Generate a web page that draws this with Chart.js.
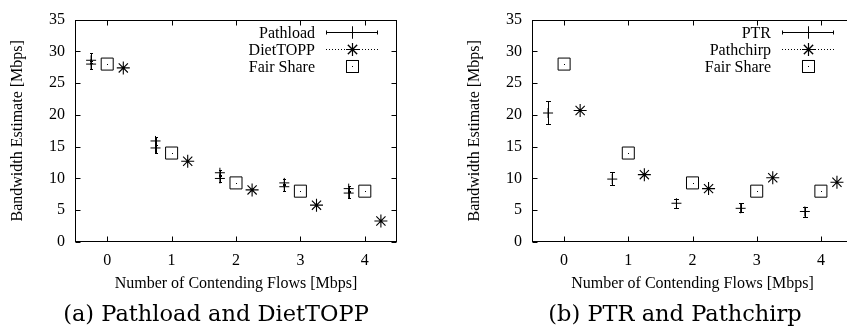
<!DOCTYPE html>
<html><head><meta charset="utf-8">
<script src="https://cdn.jsdelivr.net/npm/chart.js@4/dist/chart.umd.min.js"></script>
<style>
html,body{margin:0;padding:0;background:#fff;overflow:hidden;width:847px;height:329px;position:relative;}
#wrapA{position:absolute;left:0;top:0;width:420px;height:300px;}
#wrapB{position:absolute;left:420px;top:0;width:460px;height:300px;}
.cap{position:absolute;top:298px;font-family:"DejaVu Serif";font-size:22.5px;line-height:30px;white-space:nowrap;transform:translateX(-50%);color:#000;}
</style></head><body>
<div id="wrapA"><canvas id="cA" width="420" height="300"></canvas></div>
<div id="wrapB"><canvas id="cB" width="460" height="300"></canvas></div>
<div class="cap" style="left:216px">(a) Pathload and DietTOPP</div>
<div class="cap" style="left:675px">(b) PTR and Pathchirp</div>
<script>
// ---- data ----
const flows = [0, 1, 2, 3, 4];
const xTickLabels = ['0', '1', '2', '3', '4'];
const yTickValues = [0, 5, 10, 15, 20, 25, 30, 35];

const pathloadUpper     = [28.6, 15.9, 10.9, 9.3, 8.4];
const pathloadUpperLow  = [28.1, 15.3, 10.4, 8.9, 7.9];
const pathloadUpperHigh = [29.7, 16.5, 11.4, 9.9, 8.85];
const pathloadLower     = [28.0, 14.8, 10.0, 8.7, 7.7];
const pathloadLowerLow  = [27.2, 14.0, 9.4, 8.0, 6.95];
const pathloadLowerHigh = [28.5, 15.3, 10.5, 9.1, 8.1];
const dietToppValues    = [27.4, 12.7, 8.2, 5.8, 3.3];
const fairShare         = [28, 14, 9.3, 8, 8];

const ptrValues       = [20.3, 9.9, 6.1, 5.3, 4.8];
const ptrLow          = [18.5, 9.0, 5.4, 4.65, 4.0];
const ptrHigh         = [22.2, 10.95, 6.7, 6.1, 5.5];
const pathchirpValues = [20.7, 10.6, 8.4, 10.1, 9.4];

const SHIFT = 0.25;
const FONT = {family: '"Liberation Serif", "Times New Roman", serif', size: 16};
const FONTSTR = '16px "Liberation Serif", serif';

function pts(vals, dx) { return vals.map((v, i) => ({x: flows[i] + dx, y: v})); }

// ---- plugins ----
const errorBars = {
  id: 'errorBars',
  afterDatasetsDraw(chart) {
    const ctx = chart.ctx, xs = chart.scales.x, ys = chart.scales.y;
    chart.data.datasets.forEach(ds => {
      ctx.save();
      ctx.strokeStyle = '#000'; ctx.fillStyle = '#000'; ctx.lineWidth = 1;
      if (ds.errLow) {
        ds.data.forEach((p, i) => {
          const x = Math.round(xs.getPixelForValue(p.x)) + 0.5;
          const y1 = Math.round(ys.getPixelForValue(ds.errLow[i])) + 0.5;
          const y2 = Math.round(ys.getPixelForValue(ds.errHigh[i])) + 0.5;
          const c = ds.capHalf;
          ctx.beginPath();
          ctx.moveTo(x, y1); ctx.lineTo(x, y2);
          ctx.moveTo(x - c, y1); ctx.lineTo(x + c, y1);
          ctx.moveTo(x - c, y2); ctx.lineTo(x + c, y2);
          ctx.stroke();
        });
      }
      if (ds.centerDot) {
        ds.data.forEach(p => {
          const x = Math.round(xs.getPixelForValue(p.x));
          const y = Math.round(ys.getPixelForValue(p.y));
          ctx.fillRect(x, y, 1, 1);
        });
      }
      ctx.restore();
    });
  }
};

const frame = {
  id: 'frame',
  afterDraw(chart) {
    const ctx = chart.ctx, a = chart.chartArea, xs = chart.scales.x, ys = chart.scales.y;
    const L = Math.round(a.left) + 0.5, R = Math.round(a.right) - 0.5;
    const T = Math.round(a.top) + 0.5, B = Math.round(a.bottom) - 0.5;
    ctx.save();
    ctx.strokeStyle = '#000'; ctx.lineWidth = 1;
    ctx.strokeRect(L, T, R - L, B - T);
    const tl = 5;
    ctx.beginPath();
    xs.ticks.forEach(t => {
      const x = Math.round(xs.getPixelForValue(t.value)) + 0.5;
      ctx.moveTo(x, B); ctx.lineTo(x, B - tl);
      ctx.moveTo(x, T); ctx.lineTo(x, T + tl);
    });
    ys.ticks.forEach(t => {
      const y = Math.round(ys.getPixelForValue(t.value)) + 0.5;
      ctx.moveTo(L, y); ctx.lineTo(L + tl, y);
      ctx.moveTo(R, y); ctx.lineTo(R - tl, y);
    });
    ctx.stroke();
    ctx.restore();
  }
};

const keyBox = {
  id: 'keyBox',
  afterDraw(chart) {
    const items = chart.options.plugins.keyBox.items;
    const ctx = chart.ctx, a = chart.chartArea;
    ctx.save();
    ctx.font = FONTSTR; ctx.strokeStyle = '#000';
    ctx.textAlign = 'right'; ctx.textBaseline = 'middle';
    items.forEach((it, i) => {
      const y = Math.round(a.top + 12 + i * 17) + 0.5;
      ctx.fillStyle = '#000';
      ctx.fillText(it.label, a.right - 82, y + 1);
      const x1 = a.right - 71, x2 = a.right - 19, xm = (x1 + x2) / 2;
      ctx.lineWidth = 1;
      if (it.line) {
        ctx.beginPath();
        if (it.line === 'dotted') ctx.setLineDash([1, 2]); else ctx.setLineDash([]);
        ctx.moveTo(x1, y); ctx.lineTo(x2, y);
        ctx.stroke();
        ctx.setLineDash([]);
        if (it.caps) {
          ctx.beginPath();
          ctx.moveTo(x1 + 0.5, y - 2); ctx.lineTo(x1 + 0.5, y + 2);
          ctx.moveTo(x2 - 0.5, y - 2); ctx.lineTo(x2 - 0.5, y + 2);
          ctx.stroke();
        }
      }
      ctx.lineWidth = it.bw;
      ctx.fillStyle = 'rgba(0,0,0,0)';
      Chart.helpers.drawPoint(ctx, {pointStyle: it.style, radius: it.r, rotation: 0, borderWidth: it.bw}, Math.round(xm) + 0.5, y);
      ctx.stroke();
      ctx.fillStyle = '#000';
      if (it.style === 'rect') ctx.fillRect(Math.round(xm), Math.round(y - 0.5), 1, 1);
    });
    ctx.restore();
  }
};

function makeChart(id, padLeft, padRight, datasets, keyItems) {
  return new Chart(document.getElementById(id), {
    type: 'scatter',
    data: {datasets},
    plugins: [errorBars, frame, keyBox],
    options: {
      responsive: false, animation: false, devicePixelRatio: 1,
      layout: {padding: {left: padLeft, right: padRight, top: 14, bottom: 0}},
      plugins: {legend: {display: false}, tooltip: {enabled: false}, keyBox: {items: keyItems}},
      scales: {
        x: {
          type: 'linear', min: -0.5, max: 4.5,
          afterBuildTicks(s) { s.ticks = flows.map(v => ({value: v})); },
          afterFit(s) { s.height = 58; },
          ticks: {callback: v => { const k = flows.indexOf(v); return k >= 0 ? xTickLabels[k] : ''; },
                  font: FONT, color: '#000', padding: 9, maxRotation: 0, autoSkip: false},
          grid: {display: false, drawTicks: false}, border: {display: false},
          title: {display: true, text: 'Number of Contending Flows [Mbps]', font: FONT, color: '#000', padding: {top: 0, bottom: 7}}
        },
        y: {
          type: 'linear', min: 0, max: 35,
          afterBuildTicks(s) { s.ticks = yTickValues.map(v => ({value: v})); },
          afterFit(s) { s.width = 75; },
          ticks: {font: FONT, color: '#000', padding: 10},
          grid: {display: false, drawTicks: false}, border: {display: false},
          title: {display: true, text: 'Bandwidth Estimate [Mbps]', font: FONT, color: '#000', padding: {top: 8, bottom: 0}}
        }
      }
    }
  });
}

const crossStyle = {pointStyle: 'cross', pointRadius: 5, borderColor: '#000', backgroundColor: '#000', pointBorderWidth: 1, showLine: false};
const starStyle  = {pointStyle: 'star',  pointRadius: 6.5, borderColor: '#000', backgroundColor: '#000', pointBorderWidth: 1.1, showLine: false};
const rectStyle  = {pointStyle: 'rect',  pointRadius: 8.5, borderColor: '#000', backgroundColor: 'rgba(0,0,0,0)', pointBorderWidth: 1, showLine: false};

makeChart('cA', 0, 23, [
  Object.assign({label: 'Pathload', data: pts(pathloadUpper, -SHIFT), errLow: pathloadUpperLow, errHigh: pathloadUpperHigh, capHalf: 1.5}, crossStyle),
  Object.assign({label: 'Pathload', data: pts(pathloadLower, -SHIFT), errLow: pathloadLowerLow, errHigh: pathloadLowerHigh, capHalf: 1.5}, crossStyle),
  Object.assign({label: 'DietTOPP', data: pts(dietToppValues, SHIFT)}, starStyle),
  Object.assign({label: 'Fair Share', data: pts(fairShare, 0), centerDot: true}, rectStyle)
], [
  {label: 'Pathload', line: 'solid', caps: true, style: 'cross', r: 6, bw: 1},
  {label: 'DietTOPP', line: 'dotted', caps: false, style: 'star', r: 6.5, bw: 1.1},
  {label: 'Fair Share', line: null, style: 'rect', r: 8.5, bw: 1}
]);

makeChart('cB', 37, 27, [
  Object.assign({label: 'PTR', data: pts(ptrValues, -SHIFT), errLow: ptrLow, errHigh: ptrHigh, capHalf: 2.5}, crossStyle),
  Object.assign({label: 'Pathchirp', data: pts(pathchirpValues, SHIFT)}, starStyle),
  Object.assign({label: 'Fair Share', data: pts(fairShare, 0), centerDot: true}, rectStyle)
], [
  {label: 'PTR', line: 'solid', caps: true, style: 'cross', r: 6, bw: 1},
  {label: 'Pathchirp', line: 'dotted', caps: false, style: 'star', r: 6.5, bw: 1.1},
  {label: 'Fair Share', line: null, style: 'rect', r: 8.5, bw: 1}
]);
</script>
</body></html>
